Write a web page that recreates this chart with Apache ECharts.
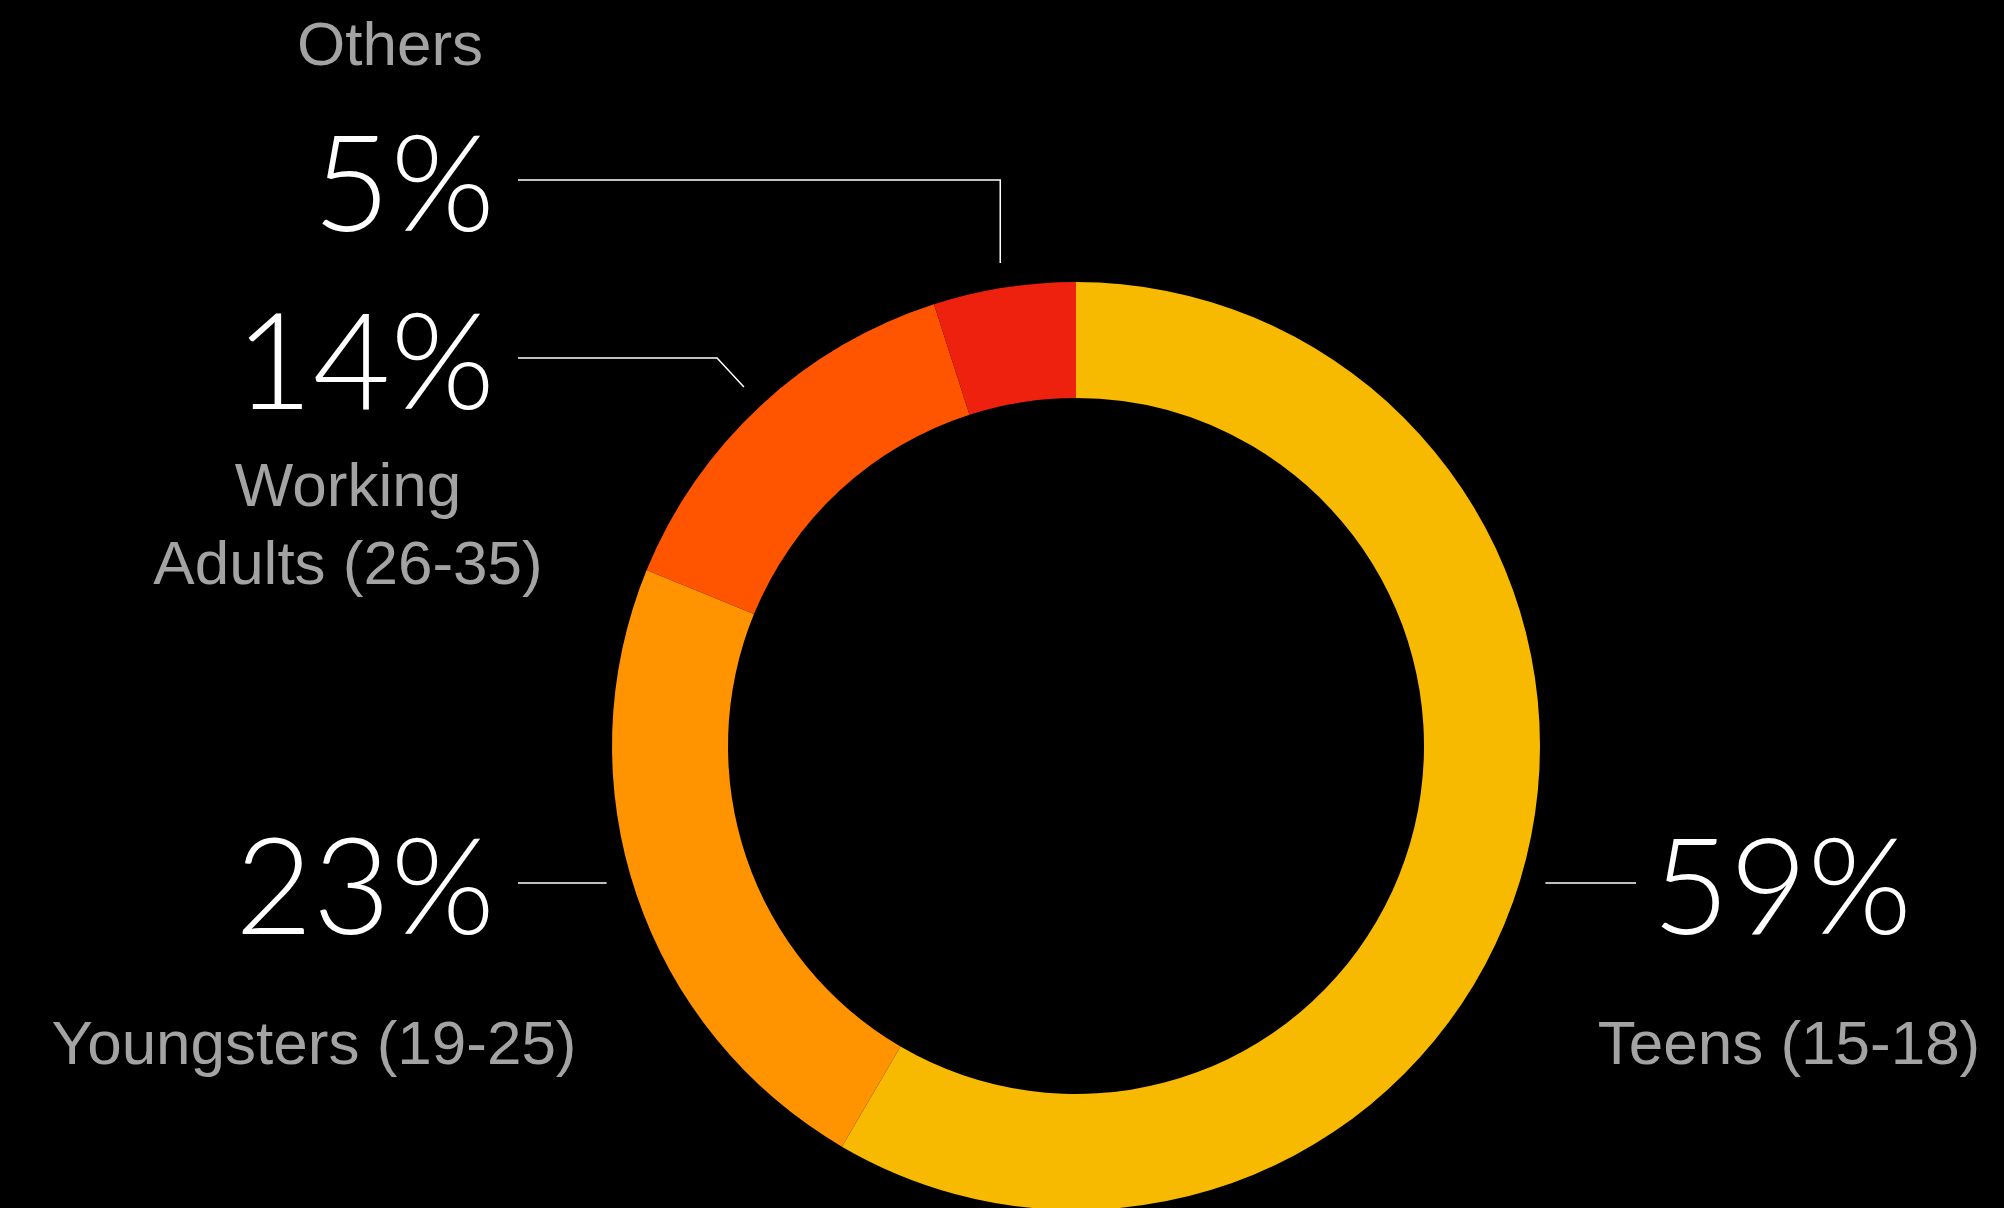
<!DOCTYPE html>
<html>
<head>
<meta charset="utf-8">
<script src="https://cdn.jsdelivr.net/npm/echarts@6/dist/echarts.min.js"></script>
<style>
  html, body { margin: 0; padding: 0; background: #000; }
  #chart { width: 2004px; height: 1208px; }
</style>
</head>
<body>
<div id="chart"></div>
<script>
// Audience split by age group (percent of users)
const categories = ['Teens (15-18)', 'Youngsters (19-25)', 'Working\nAdults (26-35)', 'Others'];
const shares = [59, 23, 14, 5];
const sliceColors = ['#F7BA00', '#FF9300', '#FF5500', '#EE200E'];

// Ring geometry
const CENTER = [1076, 746];
const RADIUS = [348, 464];
const LINE_GAP = 25;            // space between ring and leader line start

// Percentage label anchors and how each leader line bends toward it
const percentPlacement = [
  { x: 1652, y: 883, side: 'right', elbow: 'level' },
  { x: 495,  y: 883, side: 'left',  elbow: 'level' },
  { x: 495,  y: 358, side: 'left',  elbow: 'radial' },
  { x: 495,  y: 180, side: 'left',  elbow: 'vertical' }
];
const lineEndX = { left: 518, right: 1636 };
const TEXT_DROP = 8;            // digits sit a touch below their leader line

// Category name anchors (centre of text block)
const namePlacement = [
  { x: 1789, y: 1047 },
  { x: 314,  y: 1047 },
  { x: 348,  y: 528 },
  { x: 390,  y: 48 }
];

const pieData = categories.map((name, i) => ({
  name: name,
  value: shares[i],
  itemStyle: { color: sliceColors[i] }
}));

function leaderLine(params) {
  const place = percentPlacement[params.dataIndex];
  const arcPt = params.labelLinePoints[0];
  const dx = arcPt[0] - CENTER[0];
  const dy = arcPt[1] - CENTER[1];
  const len = Math.hypot(dx, dy);
  const ux = dx / len, uy = dy / len;
  const r = RADIUS[1] + LINE_GAP;
  const endX = lineEndX[place.side];
  if (place.elbow === 'level') {
    const off = Math.sqrt(Math.max(r * r - Math.pow(place.y - CENTER[1], 2), 0));
    const sx = CENTER[0] + (place.side === 'left' ? -off : off);
    return [[sx, place.y], [sx, place.y], [endX, place.y]];
  }
  const p0 = [CENTER[0] + ux * r, CENTER[1] + uy * r];
  let p1;
  if (place.elbow === 'vertical') {
    p1 = [p0[0], place.y];
  } else {
    const t = (place.y - p0[1]) / uy;
    p1 = [p0[0] + ux * t, place.y];
  }
  return [p0, p1, [endX, place.y]];
}

const chart = echarts.init(document.getElementById('chart'), null, { renderer: 'canvas' });

chart.setOption({
  backgroundColor: '#000000',
  animation: false,
  series: [
    {
      // ring with percentage labels
      type: 'pie',
      center: CENTER,
      radius: RADIUS,
      startAngle: 90,
      clockwise: true,
      avoidLabelOverlap: false,
      silent: true,
      data: pieData,
      itemStyle: { borderWidth: 0 },
      label: {
        show: true,
        position: 'outside',
        formatter: '{c}%',
        color: '#FFFFFF',
        fontFamily: 'Lato, "Liberation Sans", sans-serif',
        fontWeight: 300,
        fontSize: 134,
        overflow: 'none'
      },
      labelLine: {
        show: true,
        length: 20,
        length2: 40,
        smooth: false,
        lineStyle: { color: '#FFFFFF', width: 1.5 }
      },
      labelLayout: function (params) {
        const place = percentPlacement[params.dataIndex];
        return {
          x: place.x,
          y: place.y + TEXT_DROP,
          align: place.side === 'left' ? 'right' : 'left',
          verticalAlign: 'middle',
          labelLinePoints: leaderLine(params)
        };
      }
    },
    {
      // transparent twin ring carrying the category names
      type: 'pie',
      center: CENTER,
      radius: RADIUS,
      startAngle: 90,
      clockwise: true,
      avoidLabelOverlap: false,
      silent: true,
      data: categories.map((name, i) => ({ name: name, value: shares[i] })),
      itemStyle: { color: 'rgba(0,0,0,0)', borderWidth: 0 },
      label: {
        show: true,
        position: 'outside',
        formatter: '{b}',
        color: '#A3A3A3',
        fontFamily: '"Liberation Sans", Arial, sans-serif',
        fontSize: 62,
        lineHeight: 78,
        align: 'center',
        overflow: 'none'
      },
      labelLine: { show: false },
      labelLayout: function (params) {
        const place = namePlacement[params.dataIndex];
        return { x: place.x, y: place.y, align: 'center', verticalAlign: 'middle' };
      }
    }
  ]
});
</script>
</body>
</html>
